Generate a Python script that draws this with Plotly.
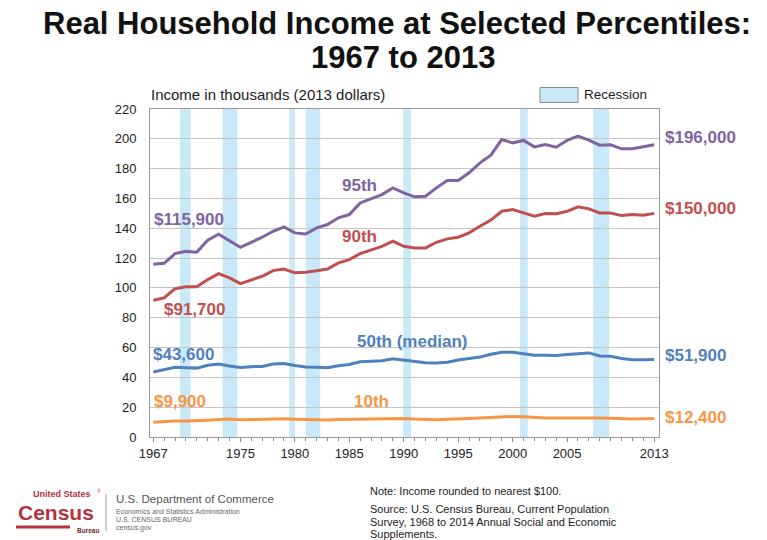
import plotly.graph_objects as go

# ---- data (thousands of 2013 dollars) ----
years = list(range(1967, 2014))

p95 = [115.9, 116.5, 123.0, 124.5, 124.0, 132.0, 136.0, 131.3, 127.2, 130.6,
       134.0, 138.0, 140.9, 136.9, 136.2, 140.3, 142.5, 147.0, 149.2, 157.0,
       159.7, 162.6, 167.1, 163.8, 161.1, 161.5, 167.1, 172.0, 172.0, 177.2,
       183.9, 189.0, 199.5, 197.3, 198.9, 194.6, 196.2, 194.4, 198.9, 201.8,
       199.1, 195.7, 196.0, 193.3, 193.3, 194.6, 196.0]

p90 = [91.7, 93.3, 99.5, 100.7, 100.7, 105.6, 109.6, 106.7, 102.9, 105.1,
       107.8, 111.6, 112.7, 110.1, 110.5, 111.5, 112.7, 116.8, 119.0, 123.0,
       125.7, 127.9, 131.3, 127.9, 126.8, 126.8, 130.6, 132.9, 134.0, 136.9,
       141.3, 145.5, 151.4, 152.6, 150.3, 148.1, 149.9, 149.7, 151.4, 154.4,
       153.0, 150.3, 150.3, 148.5, 149.2, 148.7, 150.0]

p50 = [43.6, 45.3, 46.7, 46.5, 46.2, 48.1, 48.9, 47.6, 46.6, 47.2,
       47.3, 49.0, 49.3, 47.9, 46.9, 46.7, 46.5, 47.8, 48.6, 50.4,
       50.9, 51.2, 52.4, 51.5, 50.2, 49.8, 49.6, 50.2, 51.7, 52.5,
       53.6, 55.5, 56.9, 56.8, 55.6, 54.9, 54.9, 54.7, 55.3, 55.7,
       56.4, 54.4, 54.1, 52.6, 51.8, 51.8, 51.9]

p10 = [9.9, 10.5, 10.8, 10.8, 10.8, 11.3, 11.7, 12.0, 11.6, 11.8,
       11.8, 12.1, 12.2, 11.9, 11.6, 11.4, 11.4, 11.7, 11.8, 11.9,
       12.1, 12.3, 12.6, 12.4, 12.0, 11.6, 11.6, 11.9, 12.4, 12.4,
       12.7, 13.2, 13.7, 13.8, 13.5, 13.0, 12.8, 12.7, 12.8, 13.0,
       13.0, 12.7, 12.5, 12.2, 12.1, 12.2, 12.4]

# recession bands, in axis years (start, end)
recessions = [(1969.45, 1970.43), (1973.37, 1974.71), (1979.49, 1980.01),
              (1981.0, 1982.33), (1989.96, 1990.66), (2000.67, 2001.38),
              (2007.4, 2008.87)]

x_tick_vals = [1967, 1975, 1980, 1985, 1990, 1995, 2000, 2005, 2013]
x_tick_text = [str(v) for v in x_tick_vals]

series_names = ["95th", "90th", "50th (median)", "10th"]
series_values = [p95, p90, p50, p10]
series_colors = ["#8064A2", "#C0504D", "#4F81BD", "#F79646"]

source_lines = ["Source: U.S. Census Bureau, Current Population",
                "Survey, 1968 to 2014 Annual Social and Economic",
                "Supplements."]

# ---- layout geometry ----
W, H = 767, 540
L, R, T, B = 150, 108, 109, 103
PW, PH = W - L - R, H - T - B


def xp(px):
    return (px - L) / PW


def yp(py):
    return (H - B - py) / PH


FONT = "Arial, Liberation Sans, Helvetica, sans-serif"

fig = go.Figure()

for name, vals, col in zip(series_names, series_values, series_colors):
    fig.add_trace(go.Scatter(x=years, y=vals, mode="lines", name=name,
                             line=dict(color=col, width=3),
                             showlegend=False, hoverinfo="x+y"))

shapes = []
for a, b in recessions:
    shapes.append(dict(type="rect", xref="x", yref="paper", x0=a, x1=b,
                       y0=0, y1=1, fillcolor="#C9E9F8", line=dict(width=0),
                       layer="between"))

# recession legend swatch
shapes.append(dict(type="rect", xref="paper", yref="paper",
                   x0=xp(540), x1=xp(578), y0=yp(102.5), y1=yp(87.5),
                   fillcolor="#C9E9F8", line=dict(color="#8C8C8C", width=1)))

# census logo bar and divider
shapes.append(dict(type="line", xref="paper", yref="paper",
                   x0=xp(16), x1=xp(70), y0=yp(527), y1=yp(527),
                   line=dict(color="#B5333F", width=3)))
shapes.append(dict(type="line", xref="paper", yref="paper",
                   x0=xp(106), x1=xp(106), y0=yp(494), y1=yp(531),
                   line=dict(color="#9A9A9A", width=1)))

ann = []


def text_at(txt, px, py, size, color="#222222", anchor="left", bold=False):
    if bold:
        txt = f"<b>{txt}</b>"
    ann.append(dict(text=txt, xref="paper", yref="paper", x=xp(px), y=yp(py),
                    xanchor=anchor, yanchor="middle", showarrow=False,
                    borderpad=0,
                    font=dict(family=FONT, size=size, color=color)))


# title
text_at("Real Household Income at Selected Percentiles:", 397, 23, 31, "#111111", "center", True)
text_at("1967 to 2013", 403, 57, 31, "#111111", "center", True)

# axis caption and legend label
text_at("Income in thousands (2013 dollars)", 150, 95, 15)
text_at("Recession", 583, 95, 13.5)

# series names inside the plot
name_pos = [(1985.9, 168.7), (1985.9, 134.6), (1990.8, 64.2), (1987.0, 23.9)]
for name, (nx, ny), col in zip(series_names, name_pos, series_colors):
    ann.append(dict(text=f"<b>{name}</b>", x=nx, y=ny, xref="x", yref="y",
                    xanchor="center", yanchor="middle", showarrow=False,
                    font=dict(family=FONT, size=17, color=col)))

# starting values (left) and ending values (right)
start_pos = [(1966.9, 145.8), (1967.77, 85.4), (1966.8, 55.2), (1966.9, 23.9)]
end_shift = [7, 4.5, 4, 1.5]
for vals, (sx, sy), col, ys in zip(series_values, start_pos, series_colors, end_shift):
    ann.append(dict(text=f"<b>${vals[0] * 1000:,.0f}</b>", x=sx, y=sy,
                    xref="x", yref="y", xanchor="left", yanchor="middle",
                    showarrow=False, font=dict(family=FONT, size=17, color=col)))
    ann.append(dict(text=f"<b>${vals[-1] * 1000:,.0f}</b>", x=years[-1], y=vals[-1],
                    xref="x", yref="y", xanchor="left", yanchor="middle",
                    xshift=9, yshift=ys, showarrow=False,
                    font=dict(family=FONT, size=17, color=col)))

# notes
text_at("Note: Income rounded to nearest $100.", 369, 491, 11)
for i, line in enumerate(source_lines):
    text_at(line, 369, 509 + 12.5 * i, 11)

# census logo text
text_at("United States", 32, 494, 9, "#B5333F", "left", True)
text_at("®", 96, 491, 5, "#B5333F")
text_at("Census", 56, 512, 21, "#B5333F", "center", True)
text_at("Bureau", 100, 530, 6.5, "#7A2630", "right", True)
text_at("U.S. Department of Commerce", 115, 499, 11.5, "#555555")
text_at("Economics and Statistics Administration", 115, 511, 7, "#666666")
text_at("U.S. CENSUS BUREAU", 115, 519.5, 7, "#666666")
text_at("census.gov", 115, 528, 7, "#666666")

fig.update_layout(
    width=W, height=H,
    margin=dict(l=L, r=R, t=T, b=B),
    paper_bgcolor="white", plot_bgcolor="white",
    shapes=shapes, annotations=ann,
    xaxis=dict(range=[1966.7, 2013.44], tickvals=x_tick_vals, ticktext=x_tick_text,
               ticks="outside", ticklen=4, tickcolor="#8C8C8C", showgrid=False,
               showline=True, linecolor="#9A9A9A", linewidth=1, mirror=True,
               zeroline=False,
               minor=dict(dtick=1, tick0=1967, ticks="outside", ticklen=3,
                          tickcolor="#8C8C8C", showgrid=False),
               tickfont=dict(family=FONT, size=13, color="#222222")),
    yaxis=dict(range=[0, 220], dtick=20, tick0=0, showgrid=True, gridcolor="#C4C4C4",
               gridwidth=1, showline=True, linecolor="#9A9A9A", linewidth=1,
               mirror=True, zeroline=False, ticks="", ticklabelstandoff=10,
               tickfont=dict(family=FONT, size=13, color="#222222")),
    showlegend=False,
)

fig.write_html("out.html")
